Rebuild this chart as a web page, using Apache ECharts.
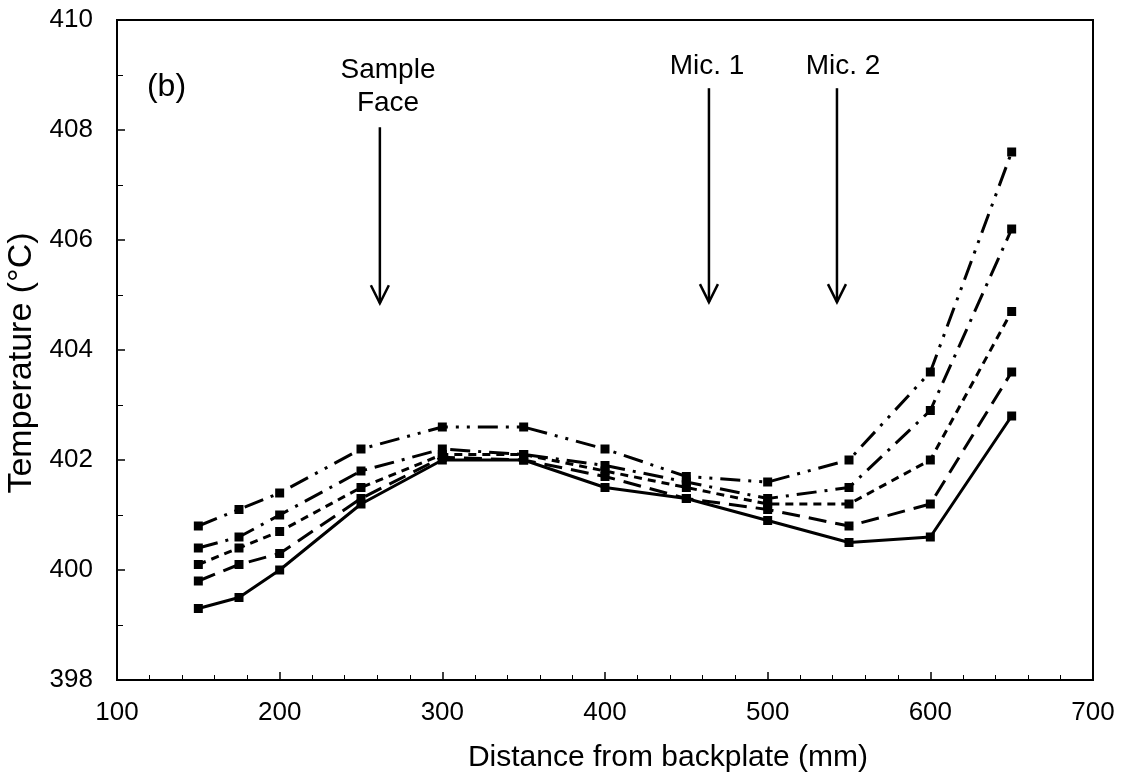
<!DOCTYPE html>
<html><head><meta charset="utf-8">
<script src="https://cdn.jsdelivr.net/npm/echarts@6/dist/echarts.min.js"></script>
<style>html,body{margin:0;padding:0;background:#fff}#c{width:1130px;height:781px}</style>
</head><body><div id="c"></div>
<script>
const distances = [150, 175, 200, 250, 300, 350, 400, 450, 500, 550, 600, 650];
const seriesSolid   = [399.3, 399.5, 400.0, 401.2, 402.0, 402.0, 401.5, 401.3, 400.9, 400.5, 400.6, 402.8];
const seriesLongDash = [399.8, 400.1, 400.3, 401.3, 402.05, 402.0, 401.7, 401.3, 401.1, 400.8, 401.2, 403.6];
const seriesShortDash = [400.1, 400.4, 400.7, 401.5, 402.1, 402.1, 401.8, 401.5, 401.2, 401.2, 402.0, 404.7];
const seriesDashDot = [400.4, 400.6, 401.0, 401.8, 402.2, 402.1, 401.9, 401.6, 401.3, 401.5, 402.9, 406.2];
const seriesDashDotDot = [400.8, 401.1, 401.4, 402.2, 402.6, 402.6, 402.2, 401.7, 401.6, 402.0, 403.6, 407.6];

const annotations = [
  { text: 'Sample\nFace', x: 261.6, labelX: 266.6, yTop: 408.05, yBottom: 404.85, labelY: 408.79 },
  { text: 'Mic. 1', x: 463.9, labelX: 462.7, yTop: 408.76, yBottom: 404.87, labelY: 409.15 },
  { text: 'Mic. 2', x: 542.6, labelX: 546.3, yTop: 408.76, yBottom: 404.87, labelY: 409.15 }
];
const panelLabel = { text: '(b)', x: 118.4, y: 408.78 };

const FONT = '"Liberation Sans", Arial, sans-serif';
const styles = [
  { data: seriesSolid, type: 'solid' },
  { data: seriesLongDash, type: [18, 9] },
  { data: seriesShortDash, type: [8, 6] },
  { data: seriesDashDot, type: [20, 8, 3, 8] },
  { data: seriesDashDotDot, type: [20, 8, 3, 8, 3, 8] }
];

const chart = echarts.init(document.getElementById('c'), null, { renderer: 'canvas' });
chart.setOption({
  backgroundColor: '#fff',
  animation: false,
  grid: { left: 117, right: 37, top: 20, bottom: 101, outerBoundsMode: 'none', containLabel: false, show: true, borderColor: '#000', borderWidth: 2, backgroundColor: 'transparent' },
  xAxis: {
    type: 'value', min: 100, max: 700, interval: 100,
    name: 'Distance from backplate (mm)', nameLocation: 'middle', nameGap: 63,
    nameTextStyle: { fontFamily: FONT, fontSize: 30, color: '#000', padding: [0, 0, 0, 126] },
    axisLine: { lineStyle: { color: '#000', width: 2 } },
    axisTick: { inside: true, length: 8, lineStyle: { color: '#000', width: 1.5 } },
    minorTick: { show: true, splitNumber: 5, length: 5, lineStyle: { color: '#000', width: 1 } },
    splitLine: { show: false },
    axisLabel: { fontFamily: FONT, fontSize: 26, color: '#000', margin: 20 }
  },
  yAxis: {
    type: 'value', min: 398, max: 410, interval: 2,
    name: 'Temperature (°C)', nameLocation: 'middle', nameGap: 74, nameRotate: 90,
    nameTextStyle: { fontFamily: FONT, fontSize: 34, color: '#000', padding: [0, 26, 0, 0] },
    axisLine: { lineStyle: { color: '#000', width: 2 } },
    axisTick: { inside: true, length: 8, lineStyle: { color: '#000', width: 1.5 } },
    minorTick: { show: true, splitNumber: 2, length: 6, lineStyle: { color: '#000', width: 1 } },
    splitLine: { show: false },
    axisLabel: { fontFamily: FONT, fontSize: 26, color: '#000', margin: 24 }
  },
  series: styles.map(s => ({
    type: 'line',
    data: distances.map((d, i) => [d, s.data[i]]),
    symbol: 'rect', symbolSize: 9,
    itemStyle: { color: '#000' },
    lineStyle: { color: '#000', width: 3, type: s.type },
    z: 3
  }))
});

function drawAnnotations() {
  const g = [];
  const p = (x, y) => chart.convertToPixel({ gridIndex: 0 }, [x, y]);
  annotations.forEach(a => {
    const t = p(a.x, a.yTop), b = p(a.x, a.yBottom), l = p(a.labelX, a.labelY);
    g.push({ type: 'line', shape: { x1: t[0], y1: t[1], x2: b[0], y2: b[1] }, style: { stroke: '#000', lineWidth: 2.5 } });
    g.push({ type: 'polyline', shape: { points: [[b[0] - 9, b[1] - 18], [b[0], b[1]], [b[0] + 9, b[1] - 18]] }, style: { stroke: '#000', lineWidth: 2.5, fill: null } });
    g.push({ type: 'text', x: l[0], y: l[1], style: { text: a.text, fontFamily: FONT, fontSize: 28, fill: '#000', align: 'center', verticalAlign: 'middle', lineHeight: 33 } });
  });
  const pl = p(panelLabel.x, panelLabel.y);
  g.push({ type: 'text', x: pl[0], y: pl[1], style: { text: panelLabel.text, fontFamily: FONT, fontSize: 32, fill: '#000', align: 'left', verticalAlign: 'middle' } });
  chart.setOption({ graphic: g });
}
drawAnnotations();
</script>
</body></html>
